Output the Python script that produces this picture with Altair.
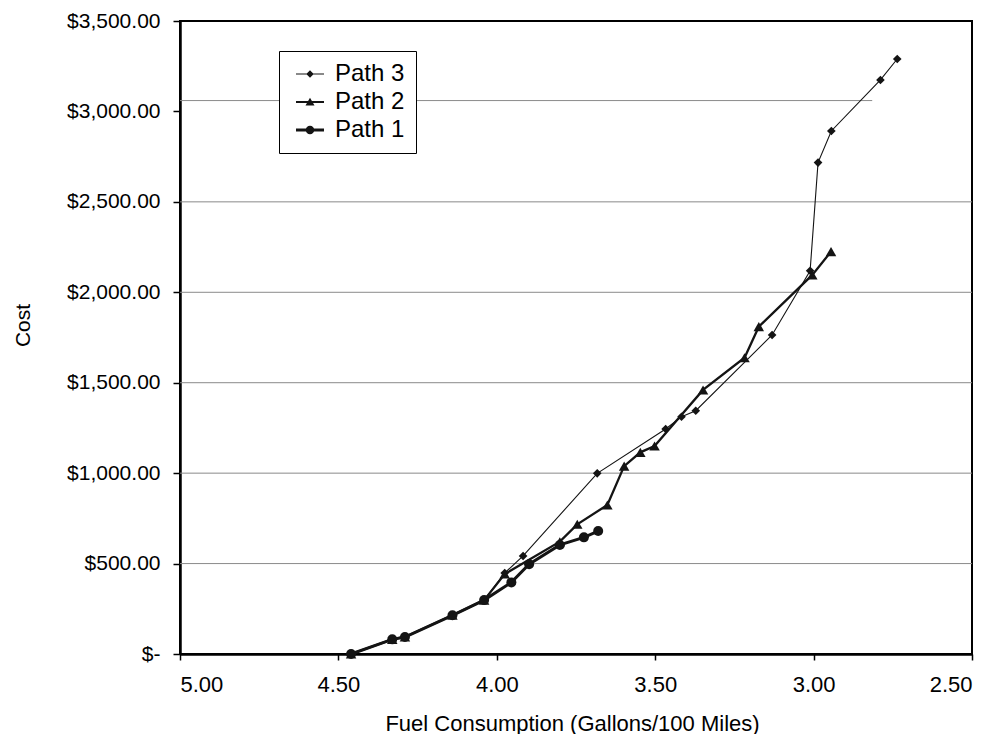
import altair as alt
import pandas as pd

# ---- data ----
series_order = ["Path 3", "Path 2", "Path 1"]

p1_x = [4.46, 4.33, 4.29, 4.14, 4.04, 3.954, 3.898, 3.801, 3.725, 3.680]
p1_y = [0, 81, 94, 214, 298, 396, 496, 603, 645, 680]

p2_x = [4.46, 4.33, 4.29, 4.14, 4.04, 3.975, 3.801, 3.746, 3.651, 3.598,
        3.547, 3.502, 3.349, 3.218, 3.173, 3.004, 2.945]
p2_y = [0, 81, 94, 214, 298, 442, 621, 717, 824, 1039,
        1115, 1150, 1460, 1638, 1810, 2096, 2225]

p3_x = [4.46, 4.33, 4.29, 4.14, 4.04, 3.975, 3.917, 3.683, 3.467, 3.417,
        3.372, 3.131, 3.011, 2.986, 2.944, 2.789, 2.736]
p3_y = [0, 81, 94, 214, 298, 448, 542, 999, 1244, 1312,
        1345, 1764, 2119, 2717, 2892, 3174, 3290]

x_ticks = [5.0, 4.5, 4.0, 3.5, 3.0, 2.5]
y_ticks = [0, 500, 1000, 1500, 2000, 2500, 3000, 3500]

# horizontal grid lines as drawn in the reference (the top one is offset and short)
grid_y = [500, 1000, 1500, 2000, 2500, 3060]
grid_x_start = [5.0, 5.0, 5.0, 5.0, 5.0, 5.0]
grid_x_end = [2.5, 2.5, 2.5, 2.5, 2.5, 2.815]

rows = []
for name, xs, ys in [("Path 1", p1_x, p1_y), ("Path 2", p2_x, p2_y), ("Path 3", p3_x, p3_y)]:
    for i, (xv, yv) in enumerate(zip(xs, ys)):
        rows.append({"series": name, "idx": i, "fuel": xv, "cost": yv})
df = pd.DataFrame(rows)
grid_df = pd.DataFrame({"gy": grid_y, "gx0": grid_x_start, "gx1": grid_x_end})

INK = "#141414"
FONT = "Liberation Sans"

xscale = alt.Scale(domain=[2.5, 5.0], reverse=True, nice=False, zero=False)
yscale = alt.Scale(domain=[0, 3500], nice=False)

x_enc = alt.X(
    "fuel:Q", scale=xscale,
    axis=alt.Axis(
        values=x_ticks, format=".2f", title="Fuel Consumption (Gallons/100 Miles)",
        grid=False, tickSize=6, labelPadding=14, labelFontSize=22,
        titleFontSize=22, titleFontWeight="normal", titleBaseline="alphabetic",
        titleY=76, titleX=392,
    ),
)
y_enc = alt.Y(
    "cost:Q", scale=yscale,
    axis=alt.Axis(
        values=y_ticks, title="Cost", grid=False, tickSize=7, labelPadding=13,
        labelFontSize=21, titleFontSize=21, titleFontWeight="normal",
        labelExpr="datum.value == 0 ? '$-' : '$' + format(datum.value, ',.2f')",
        titleX=-147, titleY=304, titleAngle=-90, titleBaseline="bottom",
    ),
)

grid = alt.Chart(grid_df).mark_rule(color="#8a8a8a", strokeWidth=1).encode(
    x=alt.X("gx0:Q", scale=xscale), x2="gx1:Q", y=alt.Y("gy:Q", scale=yscale)
)

base = alt.Chart(df)

line_widths = {"Path 3": 1.1, "Path 2": 2.3, "Path 1": 3}
marker_shapes = {"Path 3": "diamond", "Path 2": "triangle-up", "Path 1": "circle"}
marker_sizes = {"Path 3": 75, "Path 2": 110, "Path 1": 100}

layers = [grid]
for i, name in enumerate(["Path 3", "Path 2", "Path 1"]):
    sub = base.transform_filter(alt.datum.series == name)
    layers.append(
        sub.mark_line(color=INK, strokeWidth=line_widths[name]).encode(
            x=x_enc if i == 0 else "fuel:Q", y=y_enc if i == 0 else "cost:Q", order="idx:Q"
        )
    )
    layers.append(
        sub.mark_point(filled=True, color=INK, opacity=1, shape=marker_shapes[name],
                       size=marker_sizes[name]).encode(x="fuel:Q", y="cost:Q")
    )

# legend symbols: a filled bar (the line) plus the marker, in unit coordinates
legend_paths = [
    "M-2.8,-0.1H2.8V0.1H-2.8Z M0,-0.75L0.75,0L0,0.75L-0.75,0Z",
    "M-2.8,-0.2H2.8V0.2H-2.8Z M0,-0.85L0.9,0.7L-0.9,0.7Z",
    "M-2.8,-0.3H2.8V0.3H-2.8Z M-0.85,0A0.85,0.85 0 1,1 0.85,0A0.85,0.85 0 1,1 -0.85,0Z",
]
leg = alt.Legend(
    title=None, orient="none", legendX=99, legendY=30,
    padding=11, symbolOffset=8, labelOffset=13, rowPadding=4,
    labelFontSize=24, labelColor="black", symbolSize=100,
    strokeColor="black", fillColor="white",
    symbolFillColor=INK, symbolStrokeColor=INK, symbolOpacity=1, symbolStrokeWidth=0,
    labelExpr="datum.label + '\u00a0\u00a0\u00a0\u00a0'",
)
legend_layer = base.transform_filter("datum.idx < 0").mark_point(
    filled=True, color=INK
).encode(
    x="fuel:Q", y="cost:Q",
    shape=alt.Shape("series:N", scale=alt.Scale(domain=series_order, range=legend_paths), legend=leg),
)
layers.append(legend_layer)

chart = alt.layer(*layers).properties(
    width=792, height=633,
    autosize=alt.AutoSizeParams(type="none"),
    padding={"left": 180, "top": 21, "right": 26, "bottom": 80},
).configure(
    font=FONT,
).configure_view(
    stroke="black", strokeWidth=2,
).configure_axis(
    domainColor="black", domainWidth=2.5, tickColor="black", tickWidth=1.5,
    labelColor="black", titleColor="black", labelFont=FONT, titleFont=FONT,
).configure_legend(
    labelFont=FONT,
)

chart.save("out.html", embed_options={"renderer": "svg", "actions": False})
